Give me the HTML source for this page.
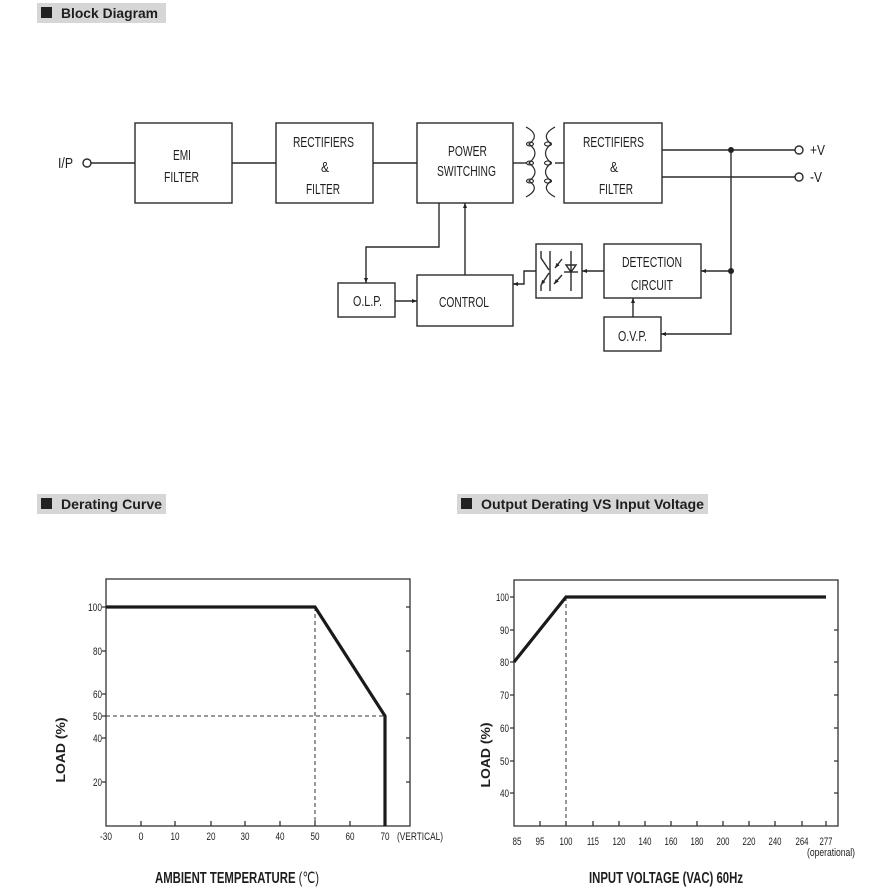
<!DOCTYPE html>
<html><head><meta charset="utf-8"><style>
html,body{margin:0;padding:0;background:#fff;}
svg{display:block;}
text{font-family:"Liberation Sans",Arial,sans-serif;fill:#1e1e1e;}
.b{font-size:15px;}
.n{font-size:11px;}
.h{font-size:14px;font-weight:bold;}
.t{font-size:16px;font-weight:bold;}
.l{font-size:13px;font-weight:bold;}
</style></head><body>
<svg width="896" height="896" viewBox="0 0 896 896" xmlns="http://www.w3.org/2000/svg">
<defs>
<marker id="ar" viewBox="0 0 10 10" refX="10" refY="5" markerWidth="5" markerHeight="5" orient="auto" markerUnits="userSpaceOnUse"><path d="M0,1 L10,5 L0,9 z" fill="#222"/></marker>
</defs>

<!-- Headers -->
<rect x="37" y="3" width="129" height="20" fill="#d6d6d6"/>
<rect x="41" y="7" width="11" height="11" fill="#222"/>
<text class="h" x="61" y="18" textLength="97" lengthAdjust="spacingAndGlyphs">Block Diagram</text>

<rect x="37" y="494" width="129" height="20" fill="#d6d6d6"/>
<rect x="41" y="498" width="11" height="11" fill="#222"/>
<text class="h" x="61" y="509" textLength="101" lengthAdjust="spacingAndGlyphs">Derating Curve</text>

<rect x="457" y="494" width="251" height="20" fill="#d6d6d6"/>
<rect x="461" y="498" width="11" height="11" fill="#222"/>
<text class="h" x="481" y="509" textLength="223" lengthAdjust="spacingAndGlyphs">Output Derating VS Input Voltage</text>

<!-- Block diagram -->
<g fill="none" stroke="#2a2a2a" stroke-width="1.4">
<rect x="135" y="123" width="97" height="80"/>
<rect x="276" y="123" width="97" height="80"/>
<rect x="417" y="123" width="96" height="80"/>
<rect x="564" y="123" width="98" height="80"/>
<rect x="338" y="283" width="57" height="34"/>
<rect x="417" y="275" width="96" height="51"/>
<rect x="536" y="244" width="46" height="54"/>
<rect x="604" y="244" width="97" height="54"/>
<rect x="604" y="317" width="57" height="34"/>
<circle cx="87" cy="163" r="4"/>
<circle cx="799" cy="150" r="4"/>
<circle cx="799" cy="177" r="4"/>
<line x1="91" y1="163" x2="135" y2="163"/>
<line x1="232" y1="163" x2="276" y2="163"/>
<line x1="373" y1="163" x2="417" y2="163"/>
<line x1="513" y1="163" x2="526" y2="163"/>
<line x1="555" y1="163" x2="564" y2="163"/>
<line x1="662" y1="150" x2="795" y2="150"/>
<line x1="662" y1="177" x2="795" y2="177"/>
<polyline points="439,203 439,247 366,247 366,283" marker-end="url(#ar)"/>
<line x1="465" y1="275" x2="465" y2="203" marker-end="url(#ar)"/>
<line x1="395" y1="301" x2="417" y2="301" marker-end="url(#ar)"/>
<polyline points="536,271 524,271 524,284 513,284" marker-end="url(#ar)"/>
<line x1="604" y1="271" x2="582" y2="271" marker-end="url(#ar)"/>
<line x1="731" y1="271" x2="701" y2="271" marker-end="url(#ar)"/>
<line x1="633" y1="317" x2="633" y2="298" marker-end="url(#ar)"/>
<polyline points="731,150 731,334 661,334" marker-end="url(#ar)"/>
<!-- transformer -->
<path d="M526,127 Q541,135 529,144 Q541,153 529,163 Q541,172 529,181 Q541,189 526,197" stroke-width="1.2"/>
<ellipse cx="530" cy="144" rx="3.5" ry="2" stroke-width="1.1"/>
<ellipse cx="530" cy="163" rx="3.5" ry="2" stroke-width="1.1"/>
<ellipse cx="530" cy="181" rx="3.5" ry="2" stroke-width="1.1"/>
<path d="M555,127 Q540,135 551,144 Q540,153 551,163 Q540,172 551,181 Q540,189 555,197" stroke-width="1.2"/>
<ellipse cx="548" cy="144" rx="3.5" ry="2" stroke-width="1.1"/>
<ellipse cx="548" cy="163" rx="3.5" ry="2" stroke-width="1.1"/>
<ellipse cx="548" cy="181" rx="3.5" ry="2" stroke-width="1.1"/>
<!-- optocoupler inside -->
<line x1="550" y1="251" x2="550" y2="291"/>
<polyline points="541,251 541,258 549,270"/>
<line x1="549" y1="273" x2="541" y2="285" marker-end="url(#ar)"/>
<line x1="541" y1="285" x2="541" y2="291"/>
<line x1="562" y1="259" x2="555" y2="268" marker-end="url(#ar)"/>
<line x1="562" y1="275" x2="554" y2="284" marker-end="url(#ar)"/>
<line x1="571" y1="251" x2="571" y2="291"/>
<polygon points="566,265 576,265 571,272"/>
<line x1="564" y1="272" x2="578" y2="272"/>
</g>
<circle cx="731" cy="150" r="3" fill="#222"/>
<circle cx="731" cy="271" r="3" fill="#222"/>

<text class="b" x="173" y="160" textLength="18" lengthAdjust="spacingAndGlyphs">EMI</text>
<text class="b" x="164" y="182" textLength="35" lengthAdjust="spacingAndGlyphs">FILTER</text>
<text class="b" x="293" y="147" textLength="61" lengthAdjust="spacingAndGlyphs">RECTIFIERS</text>
<text class="b" x="325" y="172" text-anchor="middle" textLength="8" lengthAdjust="spacingAndGlyphs">&amp;</text>
<text class="b" x="306" y="194" textLength="34" lengthAdjust="spacingAndGlyphs">FILTER</text>
<text class="b" x="448" y="156" textLength="39" lengthAdjust="spacingAndGlyphs">POWER</text>
<text class="b" x="437" y="176" textLength="59" lengthAdjust="spacingAndGlyphs">SWITCHING</text>
<text class="b" x="353" y="306" textLength="29" lengthAdjust="spacingAndGlyphs">O.L.P.</text>
<text class="b" x="439" y="307" textLength="50" lengthAdjust="spacingAndGlyphs">CONTROL</text>
<text class="b" x="58" y="168" textLength="15" lengthAdjust="spacingAndGlyphs">I/P</text>
<text class="b" x="583" y="147" textLength="61" lengthAdjust="spacingAndGlyphs">RECTIFIERS</text>
<text class="b" x="614" y="172" text-anchor="middle" textLength="8" lengthAdjust="spacingAndGlyphs">&amp;</text>
<text class="b" x="599" y="194" textLength="34" lengthAdjust="spacingAndGlyphs">FILTER</text>
<text class="b" x="810" y="155" textLength="15" lengthAdjust="spacingAndGlyphs">+V</text>
<text class="b" x="810" y="182" textLength="12" lengthAdjust="spacingAndGlyphs">-V</text>
<text class="b" x="622" y="267" textLength="60" lengthAdjust="spacingAndGlyphs">DETECTION</text>
<text class="b" x="631" y="290" textLength="42" lengthAdjust="spacingAndGlyphs">CIRCUIT</text>
<text class="b" x="618" y="341" textLength="29" lengthAdjust="spacingAndGlyphs">O.V.P.</text>

<!-- Derating curve chart -->
<g fill="none" stroke="#333" stroke-width="1.3">
<rect x="106" y="579" width="304" height="247"/>
<path d="M102,607H106 M102,651H106 M102,694H106 M102,716H106 M102,738H106 M102,782H106"/>
<path d="M406,607H410 M406,651H410 M406,694H410 M406,738H410 M406,782H410"/>
<path d="M141,826V821 M175,826V821 M211,826V821 M245,826V821 M280,826V821 M315,826V821 M350,826V821 M385,826V821"/>
</g>
<g fill="none" stroke="#333" stroke-width="1" stroke-dasharray="4,3">
<line x1="315" y1="607" x2="315" y2="826"/>
<line x1="106" y1="716" x2="385" y2="716"/>
</g>
<polyline points="106,607 315,607 385,716 385,826" fill="none" stroke="#1a1a1a" stroke-width="3.2"/>
<g text-anchor="end">
<text class="n" x="102" y="611" textLength="14" lengthAdjust="spacingAndGlyphs">100</text>
<text class="n" x="102" y="655" textLength="9" lengthAdjust="spacingAndGlyphs">80</text>
<text class="n" x="102" y="698" textLength="9" lengthAdjust="spacingAndGlyphs">60</text>
<text class="n" x="102" y="720" textLength="9" lengthAdjust="spacingAndGlyphs">50</text>
<text class="n" x="102" y="742" textLength="9" lengthAdjust="spacingAndGlyphs">40</text>
<text class="n" x="102" y="786" textLength="9" lengthAdjust="spacingAndGlyphs">20</text>
</g>
<g text-anchor="middle">
<text class="n" x="106" y="840" textLength="12" lengthAdjust="spacingAndGlyphs">-30</text>
<text class="n" x="141" y="840" textLength="5" lengthAdjust="spacingAndGlyphs">0</text>
<text class="n" x="175" y="840" textLength="9" lengthAdjust="spacingAndGlyphs">10</text>
<text class="n" x="211" y="840" textLength="9" lengthAdjust="spacingAndGlyphs">20</text>
<text class="n" x="245" y="840" textLength="9" lengthAdjust="spacingAndGlyphs">30</text>
<text class="n" x="280" y="840" textLength="9" lengthAdjust="spacingAndGlyphs">40</text>
<text class="n" x="315" y="840" textLength="9" lengthAdjust="spacingAndGlyphs">50</text>
<text class="n" x="350" y="840" textLength="9" lengthAdjust="spacingAndGlyphs">60</text>
<text class="n" x="385" y="840" textLength="9" lengthAdjust="spacingAndGlyphs">70</text>
</g>
<text class="n" x="397" y="840" textLength="46" lengthAdjust="spacingAndGlyphs">(VERTICAL)</text>
<text class="l" transform="translate(65,750) rotate(-90)" text-anchor="middle" textLength="65" lengthAdjust="spacingAndGlyphs">LOAD (%)</text>
<text class="t" x="155" y="883" textLength="164" lengthAdjust="spacingAndGlyphs">AMBIENT TEMPERATURE <tspan style="font-weight:normal">(℃)</tspan></text>

<!-- Output derating vs input voltage chart -->
<g fill="none" stroke="#333" stroke-width="1.3">
<rect x="514" y="580" width="324" height="246"/>
<path d="M510,597H514 M510,630H514 M510,662H514 M510,695H514 M510,728H514 M510,761H514 M510,793H514"/>
<path d="M834,630H838 M834,662H838 M834,695H838 M834,728H838 M834,761H838 M834,793H838"/>
<path d="M540,826V821 M566,826V821 M593,826V821 M619,826V821 M645,826V821 M671,826V821 M697,826V821 M723,826V821 M749,826V821 M775,826V821 M802,826V821 M826,826V821"/>
</g>
<line x1="566" y1="597" x2="566" y2="826" stroke="#333" stroke-width="1" stroke-dasharray="4,3"/>
<polyline points="514,662 566,597 826,597" fill="none" stroke="#1a1a1a" stroke-width="3.2"/>
<g text-anchor="end">
<text class="n" x="509" y="601" textLength="13" lengthAdjust="spacingAndGlyphs">100</text>
<text class="n" x="509" y="634" textLength="9" lengthAdjust="spacingAndGlyphs">90</text>
<text class="n" x="509" y="666" textLength="9" lengthAdjust="spacingAndGlyphs">80</text>
<text class="n" x="509" y="699" textLength="9" lengthAdjust="spacingAndGlyphs">70</text>
<text class="n" x="509" y="732" textLength="9" lengthAdjust="spacingAndGlyphs">60</text>
<text class="n" x="509" y="765" textLength="9" lengthAdjust="spacingAndGlyphs">50</text>
<text class="n" x="509" y="797" textLength="9" lengthAdjust="spacingAndGlyphs">40</text>
</g>
<g text-anchor="middle">
<text class="n" x="517" y="845" textLength="9" lengthAdjust="spacingAndGlyphs">85</text>
<text class="n" x="540" y="845" textLength="9" lengthAdjust="spacingAndGlyphs">95</text>
<text class="n" x="566" y="845" textLength="13" lengthAdjust="spacingAndGlyphs">100</text>
<text class="n" x="593" y="845" textLength="12" lengthAdjust="spacingAndGlyphs">115</text>
<text class="n" x="619" y="845" textLength="13" lengthAdjust="spacingAndGlyphs">120</text>
<text class="n" x="645" y="845" textLength="13" lengthAdjust="spacingAndGlyphs">140</text>
<text class="n" x="671" y="845" textLength="13" lengthAdjust="spacingAndGlyphs">160</text>
<text class="n" x="697" y="845" textLength="13" lengthAdjust="spacingAndGlyphs">180</text>
<text class="n" x="723" y="845" textLength="13" lengthAdjust="spacingAndGlyphs">200</text>
<text class="n" x="749" y="845" textLength="13" lengthAdjust="spacingAndGlyphs">220</text>
<text class="n" x="775" y="845" textLength="13" lengthAdjust="spacingAndGlyphs">240</text>
<text class="n" x="802" y="845" textLength="13" lengthAdjust="spacingAndGlyphs">264</text>
<text class="n" x="826" y="845" textLength="13" lengthAdjust="spacingAndGlyphs">277</text>
</g>
<text class="n" x="807" y="856" textLength="48" lengthAdjust="spacingAndGlyphs">(operational)</text>
<text class="l" transform="translate(490,755) rotate(-90)" text-anchor="middle" textLength="65" lengthAdjust="spacingAndGlyphs">LOAD (%)</text>
<text class="t" x="589" y="883" textLength="154" lengthAdjust="spacingAndGlyphs">INPUT VOLTAGE (VAC) 60Hz</text>
</svg>
</body></html>
